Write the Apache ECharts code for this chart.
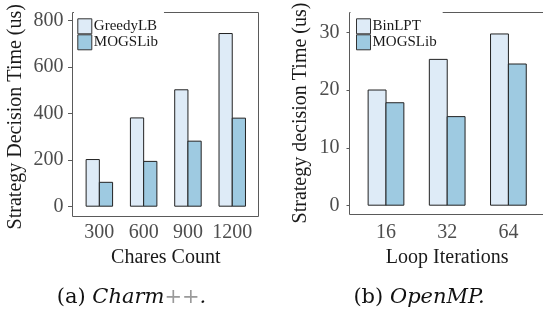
<!DOCTYPE html>
<html>
<head>
<meta charset="utf-8">
<script src="https://cdn.jsdelivr.net/npm/echarts@6/dist/echarts.min.js"></script>
<style>
html, body { margin: 0; padding: 0; background: #fff; }
#chart-panel { width: 543px; height: 315px; }
</style>
</head>
<body>
<div id="chart-panel"></div>
<script>
// (a) Charm++
var charesCount = ['300', '600', '900', '1200'];
var greedyLB = [205, 384, 505, 747];
var mogsCharm = [107, 197, 284, 383];
// (b) OpenMP
var loopIters = ['16', '32', '64'];
var binLPT = [20.1, 25.4, 29.8];
var mogsOmp = [17.9, 15.5, 24.6];

var lightBlue = '#deebf7', darkBlue = '#9ecae1';
var serif = 'Liberation Serif';
var frameColor = '#5a5a5a';

var myChart = echarts.init(document.getElementById('chart-panel'), null, {renderer: 'canvas'});

// barGap slightly negative (~1px) so the two borders of a pair merge instead of
// leaving a white seam after pixel snapping
function barSeries(name, data, idx, color, catGap, gap) {
	return {
		name: name,
		type: 'bar',
		xAxisIndex: idx,
		yAxisIndex: idx,
		data: data,
		barGap: gap,
		barCategoryGap: catGap,
		itemStyle: {color: color, borderColor: '#222', borderWidth: 1},
		emphasis: {disabled: true},
		animation: false
	};
}

function legendFor(names, left, pad) {
	return {
		data: names,
		orient: 'vertical',
		left: left,
		top: 11,
		padding: pad,
		itemGap: 0,
		itemWidth: 14,
		itemHeight: 15,
		icon: 'rect',
		selectedMode: false,
		backgroundColor: '#fff',
		itemStyle: {borderColor: '#333', borderWidth: 1},
		textStyle: {fontFamily: serif, fontSize: 15, color: '#1a1a1a', padding: [0, 0, 0, -3]}
	};
}

var axisLabelStyle = {fontFamily: serif, fontSize: 20, color: '#4d4d4d'};
var nameStyle = {fontFamily: serif, fontSize: 20, color: '#1a1a1a'};

option = {
	backgroundColor: '#fff',
	grid: [
		{left: 77.2, top: 20.7, width: 177.2, height: 186},
		{left: 355.4, top: 32.3, width: 183.6, height: 173.4}
	],
	legend: [
		legendFor(['GreedyLB', 'MOGSLib'], 74, [7.3, 6, 3, 3.3]),
		legendFor(['BinLPT', 'MOGSLib'], 350.5, [7.3, 6, 3, 5.5])
	],
	xAxis: [
		{
			type: 'category', gridIndex: 0, data: charesCount, offset: 9.8,
			axisLine: {show: false},
			axisTick: {alignWithLabel: true, length: 5, lineStyle: {color: frameColor}},
			axisLabel: Object.assign({margin: 6, interval: 0}, axisLabelStyle),
			name: 'Chares Count', nameLocation: 'middle', nameGap: 26.5, nameTextStyle: nameStyle
		},
		{
			type: 'category', gridIndex: 1, data: loopIters, offset: 8.8,
			axisLine: {show: false},
			axisTick: {alignWithLabel: true, length: 4, lineStyle: {color: frameColor}},
			axisLabel: Object.assign({margin: 8, interval: 0}, axisLabelStyle),
			name: 'Loop Iterations', nameLocation: 'middle', nameGap: 28.5, nameTextStyle: nameStyle
		}
	],
	yAxis: [
		{
			type: 'value', gridIndex: 0, min: 0, max: 800, interval: 200, offset: 4.7,
			axisLine: {show: false},
			splitLine: {show: false},
			axisTick: {show: true, length: 4.5, lineStyle: {color: frameColor}},
			axisLabel: Object.assign({margin: 9}, axisLabelStyle),
			name: 'Strategy Decision Time (us)', nameLocation: 'middle', nameGap: 46.5,
			nameTextStyle: Object.assign({padding: [0, 6, 0, 0]}, nameStyle)
		},
		{
			type: 'value', gridIndex: 1, min: 0, max: 30, interval: 10, offset: 5.9,
			axisLine: {show: false},
			splitLine: {show: false},
			axisTick: {show: true, length: 3, lineStyle: {color: frameColor}},
			axisLabel: Object.assign({margin: 10}, axisLabelStyle),
			name: 'Strategy decision Time (us)', nameLocation: 'middle', nameGap: 38.5,
			nameTextStyle: Object.assign({padding: [0, 0, 0, 12]}, nameStyle)
		}
	],
	// panel frames + sub-captions
	graphic: [
		{type: 'rect', z: 0, silent: true, shape: {x: 72.5, y: 12.5, width: 186, height: 204},
			style: {fill: null, stroke: frameColor, lineWidth: 1}},
		{type: 'rect', z: 0, silent: true, shape: {x: 349.5, y: 12.5, width: 200, height: 202},
			style: {fill: null, stroke: frameColor, lineWidth: 1}},
		{type: 'text', x: 131.5, y: 298, silent: true,
			style: {text: '(a) {i|Charm}{g|++}{i|.}', align: 'center', verticalAlign: 'middle',
				fontFamily: 'DejaVu Serif', fontSize: 21, fill: '#111',
				rich: {
					i: {fontFamily: 'DejaVu Serif', fontStyle: 'italic', fontSize: 21, fill: '#111'},
					g: {fontFamily: 'DejaVu Serif', fontStyle: 'italic', fontSize: 21, fill: '#9a9a9a'}
				}}},
		{type: 'text', x: 419, y: 298, silent: true,
			style: {text: '(b) {i|OpenMP.}', align: 'center', verticalAlign: 'middle',
				fontFamily: 'DejaVu Serif', fontSize: 21, fill: '#111',
				rich: {
					i: {fontFamily: 'DejaVu Serif', fontStyle: 'italic', fontSize: 21, fill: '#111'}
				}}}
	],
	series: [
		barSeries('GreedyLB', greedyLB, 0, lightBlue, '38%', '-7%'),
		barSeries('MOGSLib', mogsCharm, 0, darkBlue, '38%', '-7%'),
		barSeries('BinLPT', binLPT, 1, lightBlue, '40%', '-5.5%'),
		barSeries('MOGSLib', mogsOmp, 1, darkBlue, '40%', '-5.5%')
	]
};
myChart.setOption(option);
</script>
</body>
</html>
